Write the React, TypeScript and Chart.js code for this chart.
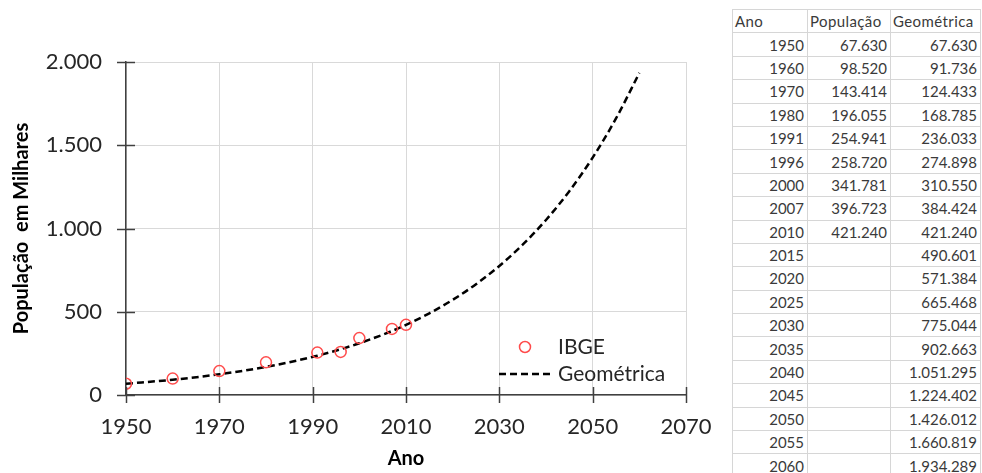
import React, { useEffect, useRef } from "react";
import { Chart, registerables } from "chart.js";

Chart.register(...registerables);

// IBGE census (thousands)
const censusYears = [1950, 1960, 1970, 1980, 1991, 1996, 2000, 2007, 2010];
const ibge = [67.63, 98.52, 143.414, 196.055, 254.941, 258.72, 341.781, 396.723, 421.24];

// Geometric projection (thousands)
const geoYears = [1950, 1960, 1970, 1980, 1991, 1996, 2000, 2007, 2010, 2015, 2020, 2025, 2030, 2035, 2040, 2045, 2050, 2055, 2060];
const geometrica = [67.63, 91.736, 124.433, 168.785, 236.033, 274.898, 310.55, 384.424, 421.24, 490.601, 571.384, 665.468, 775.044, 902.663, 1051.295, 1224.402, 1426.012, 1660.819, 1934.289];

const xMin = 1950;
const xMax = 2070;
const xStep = 20;
const yMin = 0;
const yMax = 2000;
const yStep = 500;

const seriesNames = ["IBGE", "Geométrica"];
const tableHeaders = ["Ano", "População", "Geométrica"];

function fmt(n: number): string {
  const s = String(Math.round(n));
  return s.replace(/\B(?=(\d{3})+(?!\d))/g, ".");
}

const FONT = "Lato, 'Open Sans', 'DejaVu Sans', sans-serif";

const crossTicks = {
  id: "crossTicks",
  afterDraw(chart: any) {
    const ctx = chart.ctx;
    const xs = chart.scales.x;
    const ys = chart.scales.y;
    const area = chart.chartArea;
    ctx.save();
    ctx.strokeStyle = "#404040";
    ctx.lineWidth = 1.5;
    xs.ticks.forEach((t: any) => {
      const px = Math.round(xs.getPixelForValue(t.value)) + 0.5;
      ctx.beginPath();
      ctx.moveTo(px, area.bottom - 8);
      ctx.lineTo(px, area.bottom + 8);
      ctx.stroke();
    });
    ys.ticks.forEach((t: any) => {
      const py = Math.round(ys.getPixelForValue(t.value)) + 0.5;
      ctx.beginPath();
      ctx.moveTo(area.left - 9, py);
      ctx.lineTo(area.left + 9, py);
      ctx.stroke();
    });
    // legend
    const lx = area.right - 161;
    const ly1 = area.bottom - 48;
    const ly2 = area.bottom - 21;
    ctx.strokeStyle = "#ff4b4b";
    ctx.lineWidth = 1.5;
    ctx.beginPath();
    ctx.arc(lx, ly1, 5.5, 0, Math.PI * 2);
    ctx.stroke();
    ctx.strokeStyle = "#000";
    ctx.lineWidth = 2.5;
    ctx.setLineDash([7, 4]);
    ctx.beginPath();
    ctx.moveTo(lx - 26, ly2);
    ctx.lineTo(lx + 27, ly2);
    ctx.stroke();
    ctx.setLineDash([]);
    ctx.fillStyle = "#262626";
    ctx.font = `21px ${FONT}`;
    ctx.textBaseline = "middle";
    ctx.textAlign = "left";
    ctx.fillText(seriesNames[0], lx + 33, ly1);
    ctx.fillText(seriesNames[1], lx + 33, ly2);
    ctx.restore();
  },
};

function PopChart() {
  const ref = useRef<HTMLCanvasElement>(null);
  useEffect(() => {
    if (!ref.current) return;
    const chart = new Chart(ref.current, {
      type: "scatter",
      data: {
        datasets: [
          {
            label: seriesNames[0],
            data: censusYears.map((x, i) => ({ x, y: ibge[i] })),
            showLine: false,
            pointStyle: "circle",
            pointRadius: 5.5,
            pointBorderWidth: 1.5,
            pointBorderColor: "#ff4b4b",
            pointBackgroundColor: "rgba(255,255,255,0)",
          },
          {
            label: seriesNames[1],
            data: geoYears.map((x, i) => ({ x, y: geometrica[i] })),
            showLine: true,
            borderColor: "#000",
            borderWidth: 2.5,
            borderDash: [7, 4],
            pointRadius: 0,
            cubicInterpolationMode: "monotone",
            fill: false,
          },
        ],
      },
      options: {
        animation: false,
        responsive: false,
        devicePixelRatio: 1,
        layout: { padding: { left: 0, top: 62, right: 34, bottom: 0 } },
        plugins: { legend: { display: false }, tooltip: { enabled: false } },
        scales: {
          x: {
            type: "linear",
            min: xMin,
            max: xMax,
            afterFit: (s: any) => {
              s.height = 78;
              s.paddingLeft = 0;
              s.paddingRight = 0;
            },
            ticks: {
              stepSize: xStep,
              padding: 19,
              color: "#262626",
              font: { family: FONT, size: 22 },
              callback: (v: any) => String(v),
            },
            grid: { color: "#d9d9d9", lineWidth: 1, drawTicks: false },
            border: { color: "#404040", width: 1.5 },
            title: {
              display: true,
              text: "Ano",
              color: "#000",
              font: { family: FONT, size: 20, weight: "bold" },
              padding: { top: 0, bottom: 2 },
            },
          },
          y: {
            type: "linear",
            min: yMin,
            max: yMax,
            afterFit: (s: any) => {
              s.width = 126;
              s.paddingTop = 0;
              s.paddingBottom = 0;
            },
            ticks: {
              stepSize: yStep,
              padding: 24,
              color: "#262626",
              font: { family: FONT, size: 22 },
              callback: (v: any) => fmt(Number(v)),
            },
            grid: { color: "#d9d9d9", lineWidth: 1, drawTicks: false },
            border: { color: "#404040", width: 1.5 },
            title: {
              display: true,
              text: "População  em Milhares",
              color: "#000",
              font: { family: FONT, size: 20, weight: "bold" },
              padding: { top: 10, bottom: 0 },
            },
          },
        },
      },
      plugins: [crossTicks],
    } as any);
    return () => chart.destroy();
  }, []);
  return <canvas ref={ref} width={720} height={473} style={{ display: "block" }} />;
}

function DataTable() {
  const cell: React.CSSProperties = {
    border: "1px solid #d6d6d6",
    height: 22.4,
    padding: "0 3px",
    textAlign: "right",
    whiteSpace: "nowrap",
    overflow: "hidden",
    lineHeight: "22px",
  };
  const head: React.CSSProperties = { ...cell, textAlign: "left", padding: "0 2px" };
  return (
    <table
      style={{
        position: "absolute",
        left: 732,
        top: 9,
        borderCollapse: "collapse",
        tableLayout: "fixed",
        width: 248,
        fontFamily: FONT,
        fontSize: 15,
        color: "#3a3a3a",
      }}
    >
      <colgroup>
        <col style={{ width: 75 }} />
        <col style={{ width: 83 }} />
        <col style={{ width: 90 }} />
      </colgroup>
      <tbody>
        <tr>
          {tableHeaders.map((h) => (
            <td key={h} style={{ ...head, letterSpacing: "0.4px" }}>{h}</td>
          ))}
        </tr>
        {geoYears.map((yr, i) => (
          <tr key={yr}>
            <td style={cell}>{yr}</td>
            <td style={cell}>{i < ibge.length ? fmt(ibge[i] * 1000) : ""}</td>
            <td style={cell}>{fmt(geometrica[i] * 1000)}</td>
          </tr>
        ))}
      </tbody>
    </table>
  );
}

export default function App() {
  return (
    <div
      style={{
        position: "fixed",
        left: 0,
        top: 0,
        width: 982,
        height: 473,
        overflow: "hidden",
        background: "#fff",
      }}
    >
      <PopChart />
      <DataTable />
    </div>
  );
}
